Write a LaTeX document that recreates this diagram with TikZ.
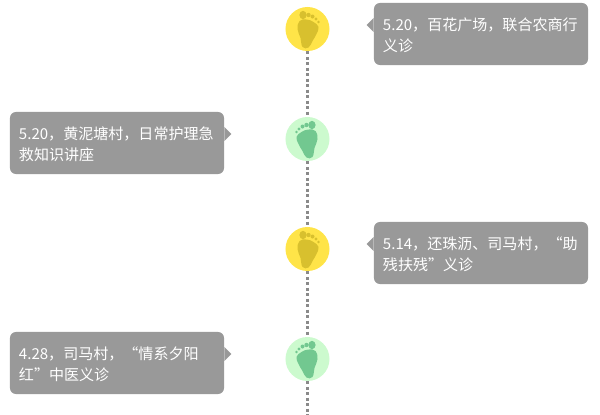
\documentclass[tikz,border=0pt]{standalone}
\usepackage{fontspec}
\setmainfont{Noto Sans CJK SC}
\definecolor{bubblegray}{HTML}{999999}
\definecolor{sunyellow}{HTML}{FFE448}
\definecolor{footyellow}{HTML}{D8C02E}
\definecolor{palegreen}{HTML}{CCFACE}
\definecolor{footgreen}{HTML}{72C890}
\definecolor{dotgray}{HTML}{8A8A8A}
\tikzset{
  stepyellow/.style={circle,fill=sunyellow,minimum size=1.1cm,inner sep=0pt},
  stepgreen/.style={circle,fill=palegreen,minimum size=1.1cm,inner sep=0pt},
  bubble/.style={fill=bubblegray,rounded corners=0.15cm,text=white,minimum width=5.35cm,
    minimum height=1.55cm,text width=4.9cm,align=left,inner sep=0pt,
    font=\fontsize{10.7}{15.6}\selectfont,execute at begin node={\rule{0pt}{10.8pt}}},
  dots/.style={dotgray,line width=0.075cm,dash pattern=on 2.1pt off 1.8pt},
  foot/.pic={
    \fill[pic actions] plot[smooth cycle,tension=0.7] coordinates
      {(-8,-8) (-1,-9.5) (6,-7) (11,-2) (9,5) (5,12) (1,18.5) (-5,18) (-7,9) (-10,0)};
    \fill[pic actions] (-4.5,-14) ellipse (3.6 and 4.2);
    \fill[pic actions] (1,-14) circle (2.2);
    \fill[pic actions] (5,-12.5) circle (2);
    \fill[pic actions] (8.5,-10) circle (1.7);
    \fill[pic actions] (11,-7) circle (1.4);
  }
}
\begin{document}
\begin{tikzpicture}[x=0.025cm,y=-0.025cm]
  \useasboundingbox (0,0) rectangle (600,415);

  \draw (307.5,29) node[stepyellow] (a) {};
  \draw (307.5,139) node[stepgreen] (b) {};
  \draw (307.5,249) node[stepyellow] (c) {};
  \draw (307.5,359) node[stepgreen] (d) {};
  \coordinate (end) at (307.5,415);

  \draw[dots] (a) -- (b);
  \draw[dots] (b) -- (c);
  \draw[dots] (c) -- (d);
  \draw[dots] (d) -- (end);

  \pic[fill=footyellow] at (a) {foot};
  \pic[fill=footgreen,xscale=-1] at (b) {foot};
  \pic[fill=footyellow] at (c) {foot};
  \pic[fill=footgreen,xscale=-1] at (d) {foot};

  \draw (481,34) node[bubble] (note1) {5.20，百花广场，联合农商行\\义诊};
  \draw (117,143) node[bubble] (note2) {5.20，黄泥塘村，日常护理急\\救知识讲座};
  \draw (481,253) node[bubble] (note3) {5.14，还珠沥、司马村，“助\\残扶残”义诊};
  \draw (117,363) node[bubble] (note4) {4.28，司马村，“情系夕阳\\红”中医义诊};

  % little pointers
  \fill[bubblegray] (note1.west) ++(0,-16) -- ++(-7,7) -- ++(7,7) -- cycle;
  \fill[bubblegray] (note2.east) ++(0,-16) -- ++(7,7) -- ++(-7,7) -- cycle;
  \fill[bubblegray] (note3.west) ++(0,-16) -- ++(-7,7) -- ++(7,7) -- cycle;
  \fill[bubblegray] (note4.east) ++(0,-16) -- ++(7,7) -- ++(-7,7) -- cycle;
\end{tikzpicture}
\end{document}
